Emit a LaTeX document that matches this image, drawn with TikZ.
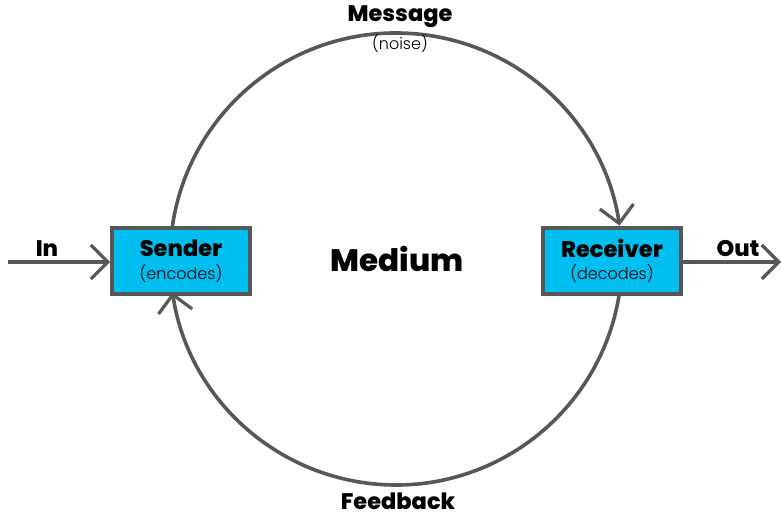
\documentclass[tikz,border=0pt]{standalone}
\usepackage{fontspec}
\setmainfont{Poppins}
\newfontfamily\lightfont{Poppins Light}
\newfontfamily\heavyfont{Poppins ExtraBold}
\usetikzlibrary{arrows.meta}
\definecolor{linegray}{HTML}{575757}
\definecolor{boxcyan}{HTML}{00BEF0}
\tikzset{
  flow/.style={draw=linegray, line width=3.6pt,
    -{Straight Barb[length=17pt,width=34pt,line width=3.2pt]}},
  agent/.style={draw=linegray, line width=3.6pt, fill=boxcyan,
    minimum width=138pt, minimum height=66pt, inner sep=0pt, align=center},
  title/.style={font=\heavyfont\fontsize{22.5}{24}\selectfont},
  sub/.style={font=\lightfont\fontsize{16}{18}\selectfont},
  big/.style={font=\heavyfont\fontsize{31}{33}\selectfont}
}
\begin{document}
\begin{tikzpicture}[x=1pt,y=1pt]
  \useasboundingbox (0,0) rectangle (781,518);
  \coordinate (c) at (396,259);
  % message arc: from the sender's top edge over to the receiver's top edge
  \coordinate (msgStart) at ([shift={(172:226pt)}]c);
  \draw[flow] (msgStart) arc[start angle=172, end angle=8.5, radius=226pt];
  % feedback arc: from the receiver's bottom edge round to the sender's bottom edge
  \coordinate (fbStart) at ([shift={(-9:226pt)}]c);
  \draw[flow] (fbStart) arc[start angle=-9, end angle=-171.5, radius=226pt];
  % sender and receiver boxes
  \node[agent] (sender) at (181,257) {};
  \node[agent] (receiver) at (612,257) {};
  \node[title] at (181,270) {Sender};
  \node[sub] at (181,244) {(encodes)};
  \node[title] at (612,270) {Receiver};
  \node[sub] at (612,244) {(decodes)};
  % input and output
  \coordinate (inStart) at (8,256);
  \coordinate (outEnd) at (781,256);
  \draw[flow] (inStart) -- (sender.west |- inStart);
  \draw[flow] (receiver.east |- outEnd) -- (outEnd);
  \node[title] (in) at (47,269) {In};
  \node[title] (out) at (738,269) {Out};
  \node[title] (msg) at (400,501) {Message};
  \node[sub] (noise) at (400,474) {(noise)};
  \node[title] (fb) at (398,17) {Feedback};
  \node[big] (medium) at (397,259) {Medium};
\end{tikzpicture}
\end{document}
